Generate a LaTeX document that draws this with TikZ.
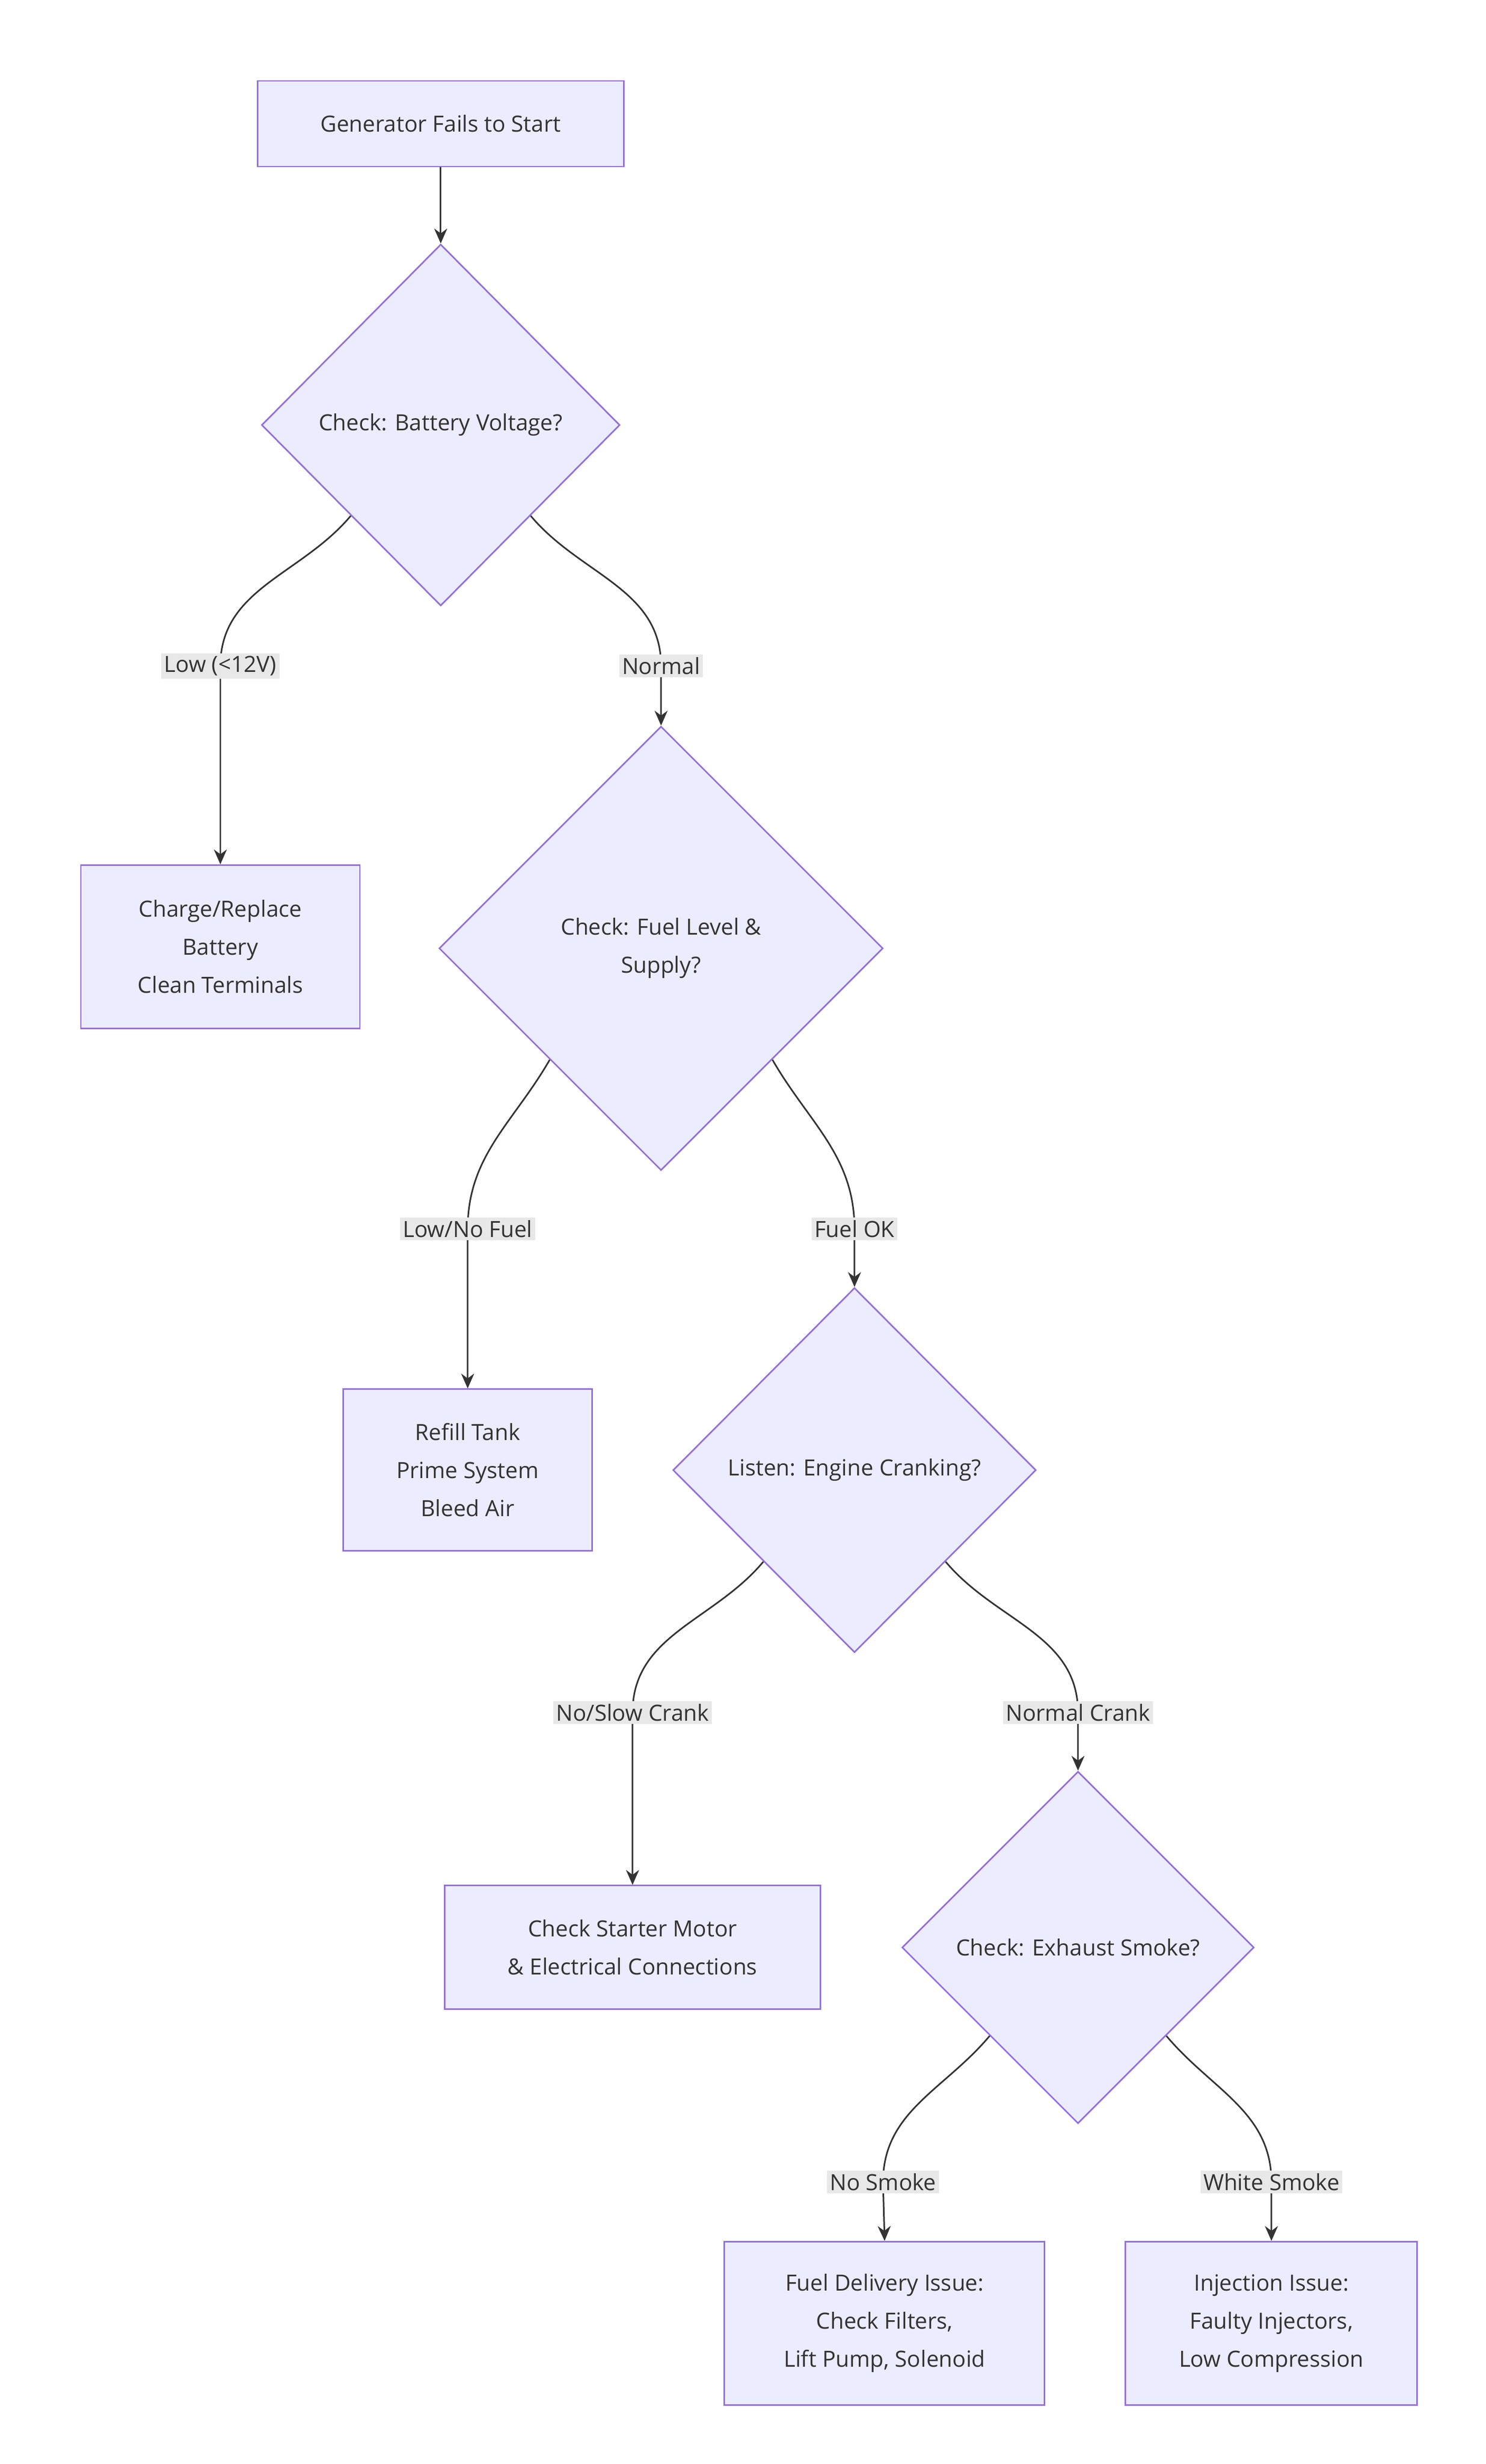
\documentclass[tikz,border=0pt]{standalone}
\usepackage{fontspec}
\setmainfont{Open Sans}
\usetikzlibrary{shapes.geometric,arrows.meta}
\definecolor{nfill}{HTML}{ECECFF}
\definecolor{nline}{HTML}{9370DB}
\definecolor{lfill}{HTML}{E8E8E8}
\definecolor{eline}{HTML}{333333}
\begin{document}
\begin{tikzpicture}[x=0.03cm,y=-0.03cm,
  every node/.style={font=\fontsize{12}{20.5}\selectfont,align=center,text=eline},
  box/.style={draw=nline,fill=nfill,line width=0.85pt,inner sep=0pt},
  dia/.style={diamond,aspect=1,draw=nline,fill=nfill,line width=0.85pt,inner sep=0pt},
  lab/.style={fill=lfill,inner sep=1.5pt},
  edge/.style={draw=eline,line width=0.85pt,-{Stealth[length=8pt,width=7pt]}}]
\fill[white] (0,0) rectangle (937.3,1553.7);
\node[box,minimum width=231*0.03cm,minimum height=54*0.03cm] (start) at (278,78) {Generator Fails to Start};
\node[dia,minimum width=226*0.03cm,minimum height=228*0.03cm] (d1) at (278,268) {Check: Battery Voltage?};
\node[box,minimum width=176*0.03cm,minimum height=103*0.03cm] (bat) at (139,597) {Charge/Replace\\Battery\\Clean Terminals};
\node[dia,minimum width=280*0.03cm,minimum height=280*0.03cm] (d2) at (417,598) {Check: Fuel Level \&\\Supply?};
\node[box,minimum width=157*0.03cm,minimum height=102*0.03cm] (refill) at (295,927) {Refill Tank\\Prime System\\Bleed Air};
\node[dia,minimum width=229*0.03cm,minimum height=230*0.03cm] (d3) at (539,927) {Listen: Engine Cranking?};
\node[box,minimum width=237*0.03cm,minimum height=78*0.03cm] (starter) at (399,1228) {Check Starter Motor\\\& Electrical Connections};
\node[dia,minimum width=222*0.03cm,minimum height=222*0.03cm] (d4) at (680,1228) {Check: Exhaust Smoke?};
\node[box,minimum width=202*0.03cm,minimum height=103*0.03cm] (fuel) at (558,1465) {Fuel Delivery Issue:\\Check Filters,\\Lift Pump, Solenoid};
\node[box,minimum width=184*0.03cm,minimum height=103*0.03cm] (inj) at (802,1465) {Injection Issue:\\Faulty Injectors,\\Low Compression};
\coordinate (l1) at (139,420); \coordinate (l2) at (417,420);
\coordinate (l3) at (295,775); \coordinate (l4) at (539,775);
\coordinate (l5) at (399,1080); \coordinate (l6) at (680,1080);
\coordinate (l7) at (557,1376); \coordinate (l8) at (802,1376);
\draw[edge] (start) -- (d1);
\draw[edge] (d1.south west) to[out=-130,in=90] (l1) to[out=-90,in=90] (bat.north);
\draw[edge] (d1.south east) to[out=-50,in=90] (l2) -- (d2.north);
\draw[edge] (d2.south west) to[out=-120,in=90] (l3) to[out=-90,in=90] (refill.north);
\draw[edge] (d2.south east) to[out=-60,in=90] (l4) -- (d3.north);
\draw[edge] (d3.south west) to[out=-130,in=90] (l5) to[out=-90,in=90] (starter.north);
\draw[edge] (d3.south east) to[out=-50,in=90] (l6) -- (d4.north);
\draw[edge] (d4.south west) to[out=-130,in=90] (l7) -- (fuel.north);
\draw[edge] (d4.south east) to[out=-50,in=90] (l8) -- (inj.north);
\node[lab] at (l1) {Low (<12V)};
\node[lab] at (l2) {Normal};
\node[lab] at (l3) {Low/No Fuel};
\node[lab] at (l4) {Fuel OK};
\node[lab] at (l5) {No/Slow Crank};
\node[lab] at (l6) {Normal Crank};
\node[lab] at (l7) {No Smoke};
\node[lab] at (l8) {White Smoke};
\end{tikzpicture}
\end{document}
